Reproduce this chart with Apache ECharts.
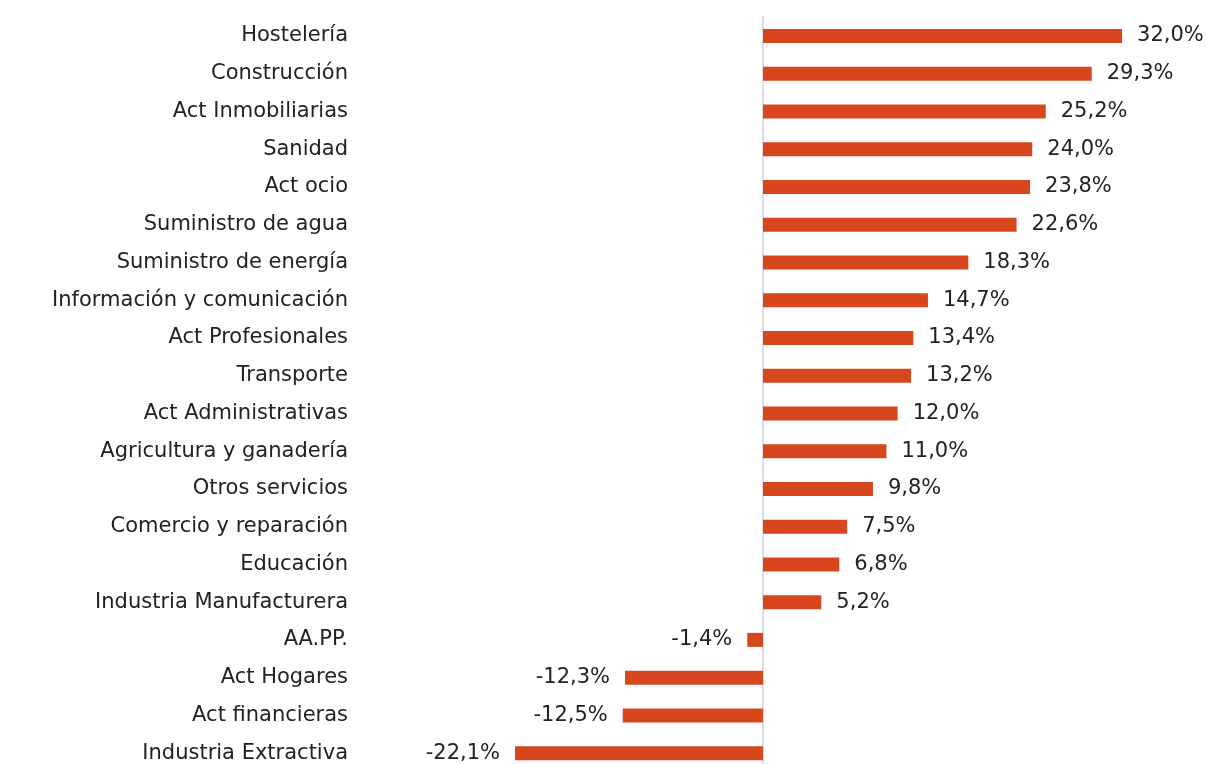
<!DOCTYPE html>
<html>
<head>
<meta charset="utf-8">
<script src="https://cdn.jsdelivr.net/npm/echarts@6/dist/echarts.min.js"></script>
<style>
  html, body { margin: 0; padding: 0; background: #ffffff; }
  #chart { width: 1206px; height: 764px; }
</style>
</head>
<body>
<div id="chart"></div>
<script>
// sectores, de arriba a abajo
const sectors = [
  'Hostelería', 'Construcción', 'Act Inmobiliarias', 'Sanidad', 'Act ocio',
  'Suministro de agua', 'Suministro de energía', 'Información y comunicación',
  'Act Profesionales', 'Transporte', 'Act Administrativas', 'Agricultura y ganadería',
  'Otros servicios', 'Comercio y reparación', 'Educación', 'Industria Manufacturera',
  'AA.PP.', 'Act Hogares', 'Act financieras', 'Industria Extractiva'
]
const changes = [
  32.0, 29.3, 25.2, 24.0, 23.8,
  22.6, 18.3, 14.7,
  13.4, 13.2, 12.0, 11.0,
  9.8, 7.5, 6.8, 5.2,
  -1.4, -12.3, -12.5, -22.1
]

const FONT = 'DejaVu Sans'
const fmt = v => v.toFixed(1).replace('.', ',') + '%'

const chart = echarts.init(document.getElementById('chart'))

chart.setOption({
  animation: false,
  grid: { left: 482.5, right: 50.3, top: 17, bottom: -8, outerBoundsMode: 'none' },
  xAxis: {
    type: 'value',
    min: -25,
    max: 35,
    show: false
  },
  yAxis: {
    type: 'category',
    data: sectors,
    inverse: true,
    axisTick: { show: false },
    axisLine: { show: true, onZero: true, lineStyle: { color: '#D9DEE6', width: 2 } },
    axisLabel: {
      margin: 134.5,
      color: '#222222',
      fontFamily: FONT,
      fontSize: 21
    }
  },
  series: [
    {
      type: 'bar',
      barWidth: 14,
      data: changes.map(v => ({
        value: v,
        label: { position: v < 0 ? 'left' : 'right' }
      })),
      itemStyle: { color: '#D8461E' },
      label: {
        show: true,
        distance: 15,
        color: '#222222',
        fontFamily: FONT,
        fontSize: 21,
        formatter: p => fmt(p.value)
      }
    }
  ]
})
</script>
</body>
</html>
